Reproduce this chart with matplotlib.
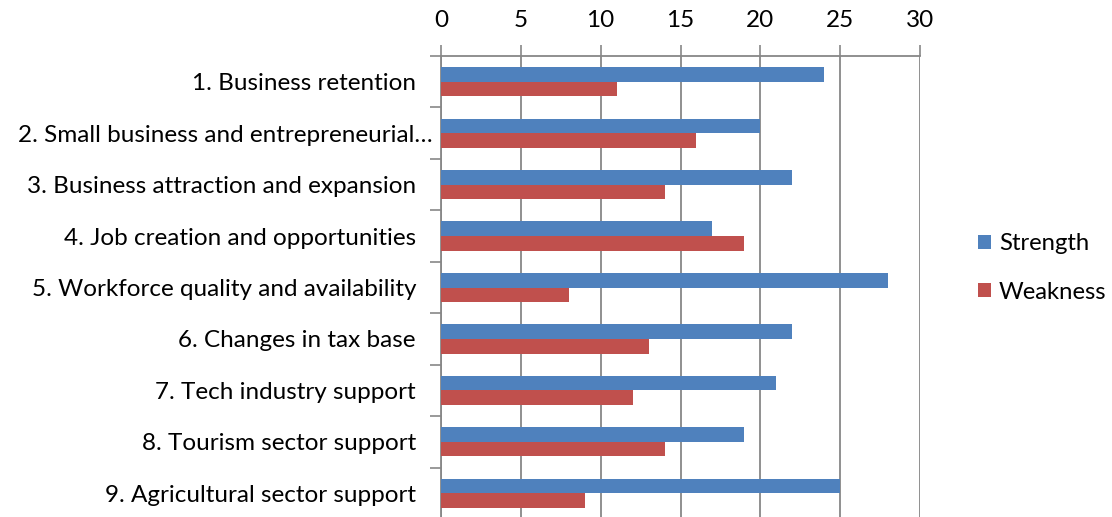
import numpy as np
import matplotlib
matplotlib.use("Agg")
import matplotlib.pyplot as plt
from matplotlib.transforms import ScaledTranslation

categories = [
    "1. Business retention",
    "2. Small business and entrepreneurial\u2026",
    "3. Business attraction and expansion",
    "4. Job creation and opportunities",
    "5. Workforce quality and availability",
    "6. Changes in tax base",
    "7. Tech industry support",
    "8. Tourism sector support",
    "9. Agricultural sector support",
]
strength = [24, 20, 22, 17, 28, 22, 21, 19, 25]
weakness = [11, 16, 14, 19, 8, 13, 12, 14, 9]
xticks = [0, 5, 10, 15, 20, 25, 30]

plt.rcParams['font.family'] = ['Lato', 'DejaVu Sans']
fs = 17.5

fig = plt.figure(figsize=(11.12, 5.17), dpi=100)
ax = fig.add_axes([441/1112, -2/517, 479/1112, (517-56+2)/517])

y = np.arange(len(categories))
h = 0.285
grid_c = "#878787"

ax.barh(y - h/2, strength, height=h, color="#4F81BD", label="Strength", zorder=3)
ax.barh(y + h/2, weakness, height=h, color="#C0504D", label="Weakness", zorder=3)

ax.set_xlim(0, 30)
ax.set_ylim(len(categories) - 0.5, -0.5)
ax.xaxis.tick_top()
ax.set_xticks(xticks)
ax.set_xticklabels([str(v) for v in xticks], fontsize=fs)
ax.tick_params(axis="x", length=8, width=1.2, color=grid_c, pad=10)
ax.xaxis.grid(True, color=grid_c, linewidth=1.3, zorder=0)

ax.set_yticks(y)
ax.set_yticklabels(categories, fontsize=fs)
ax.set_yticks(np.arange(len(categories) + 1) - 0.5, minor=True)
ax.tick_params(axis="y", which="major", length=0, pad=18)
ax.tick_params(axis="y", which="minor", length=8, width=1.2, color=grid_c)

# the truncated label sits a little further right, as in the original
lbl = ax.get_yticklabels()[1]
lbl.set_transform(lbl.get_transform() + ScaledTranslation(17/100, 0, fig.dpi_scale_trans))

for s in ["right", "bottom"]:
    ax.spines[s].set_visible(False)
for s in ["top", "left"]:
    ax.spines[s].set_color(grid_c)
    ax.spines[s].set_linewidth(1.3)

leg = fig.legend(loc="center left", bbox_to_anchor=(968/1112, 1 - 268/517),
                 frameon=False, fontsize=17.2, handlelength=0.55, handleheight=0.55,
                 handletextpad=0.35, labelspacing=1.15, borderaxespad=0)

fig.savefig("out.png", dpi=100)
